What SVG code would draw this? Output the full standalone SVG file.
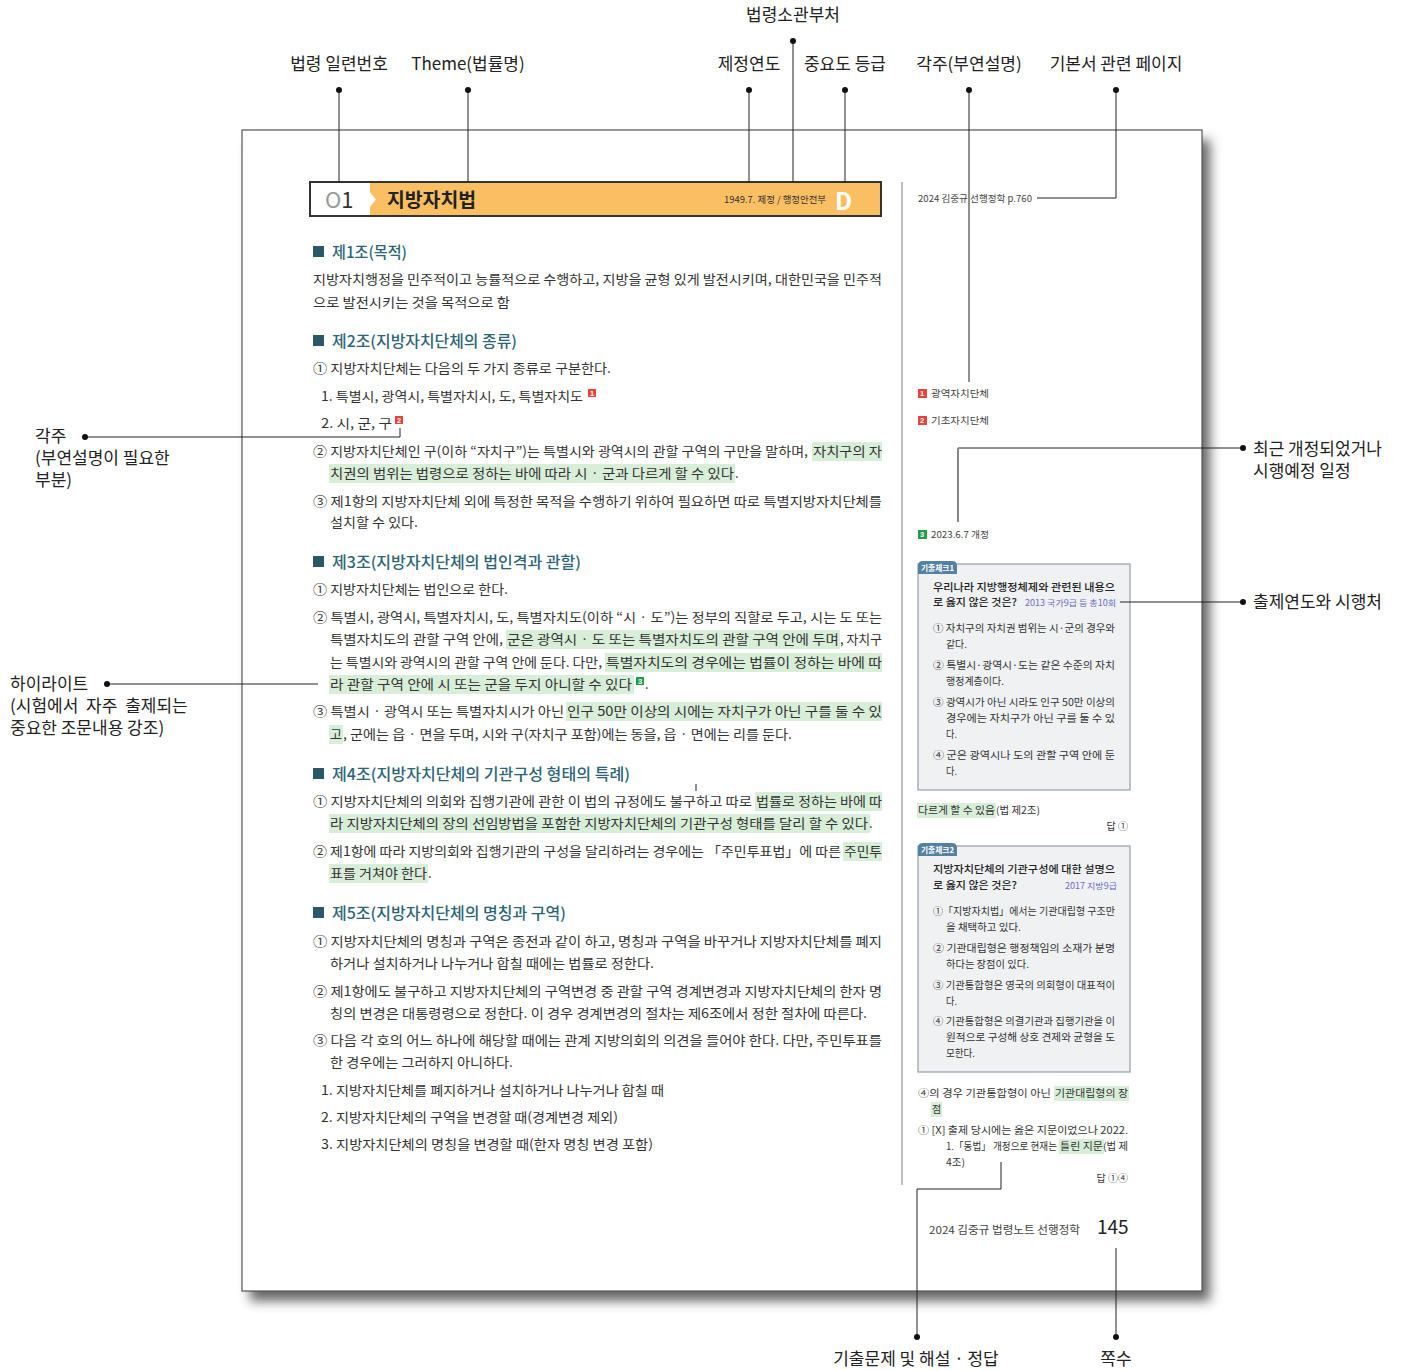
<svg xmlns="http://www.w3.org/2000/svg" width="1410" height="1370" viewBox="0 0 1410 1370">
<defs>
<filter id="sh" x="-5%" y="-5%" width="110%" height="110%"><feGaussianBlur stdDeviation="6"/></filter>
</defs>
<style>
text{font-family:"Noto Sans CJK KR","Noto Sans",sans-serif}
.lab{font-size:17px;fill:#222}
.b{font-size:13px;fill:#333}
.h{font-size:15.5px;fill:#2D6576;font-weight:500}
.sq{fill:#2B5866}
.s{font-size:9.5px;fill:#444}
.q{font-size:10.5px;fill:#222;font-weight:500}
.qs{font-size:10px;fill:#333}
.src{font-size:8.5px;fill:#6B6BC4}
.hl{fill:#D8EED9}
.ln{stroke:#222;stroke-width:1;fill:none}
.dot{fill:#111}
.mk{font-family:"Liberation Sans",sans-serif;font-size:7.5px;fill:#fff;font-weight:bold}
.red{fill:#E8433A}
.grn{fill:#1E9E4A}
.box{fill:#EFF1F3;stroke:#9AA5AE;stroke-width:1.3}
.tab{fill:#5580A0}
.tabt{font-size:7.5px;fill:#fff;font-weight:bold}
</style>
<rect width="1410" height="1370" fill="#fff"/>

<g id="page">
<rect x="250" y="140" width="960" height="1161" fill="#333" opacity="0.75" filter="url(#sh)"/>
<rect x="242" y="130" width="960" height="1161" fill="#fff" stroke="#555" stroke-width="1.2"/>
<line x1="902" y1="182" x2="902" y2="1185" stroke="#aaa" stroke-width="1.5"/>
</g>

<g id="header-bar">
<rect x="311" y="183" width="570" height="33" fill="#FBBF63"/>
<rect x="311" y="183" width="59" height="33" fill="#fff"/>
<polygon points="369,191 376,199.5 369,208" fill="#fff"/>
<rect x="310" y="182" width="571" height="34" fill="none" stroke="#333" stroke-width="2"/>
<text x="325" y="208" font-family="Liberation Sans,sans-serif" font-size="22"><tspan fill="#9a9a9a">O</tspan><tspan fill="#333">1</tspan></text>
<text x="387" y="207" font-size="19" font-weight="bold" fill="#222" textLength="89" lengthAdjust="spacingAndGlyphs">지방자치법</text>
<text x="724" y="203" font-size="9.5" fill="#333" textLength="102" lengthAdjust="spacingAndGlyphs">1949.7. 제정 / 행정안전부</text>
<text x="835" y="210" font-family="Liberation Sans,sans-serif" font-size="24" font-weight="bold" fill="#fff">D</text>
</g>

<g id="art1">
<rect class="sq" x="313" y="246" width="11" height="11"/>
<text class="h" x="332" y="258" textLength="75" lengthAdjust="spacingAndGlyphs">제1조(목적)</text>
<text class="b" x="313" y="284" textLength="569" lengthAdjust="spacingAndGlyphs">지방자치행정을 민주적이고 능률적으로 수행하고, 지방을 균형 있게 발전시키며, 대한민국을 민주적</text>
<text class="b" x="313" y="307" textLength="197" lengthAdjust="spacingAndGlyphs">으로 발전시키는 것을 목적으로 함</text>
</g>

<g id="art2">
<rect class="sq" x="313" y="335" width="11" height="11"/>
<text class="h" x="332" y="347" textLength="185" lengthAdjust="spacingAndGlyphs">제2조(지방자치단체의 종류)</text>
<text class="b" x="313" y="373" textLength="298" lengthAdjust="spacingAndGlyphs">① 지방자치단체는 다음의 두 가지 종류로 구분한다.</text>
<text class="b" x="321" y="401" textLength="262" lengthAdjust="spacingAndGlyphs">1. 특별시, 광역시, 특별자치시, 도, 특별자치도</text>
<rect class="red" x="588" y="389" width="8" height="8"/><text class="mk" x="590" y="396">1</text>
<text class="b" x="321" y="428" textLength="71" lengthAdjust="spacingAndGlyphs">2. 시, 군, 구</text>
<rect class="red" x="395" y="416" width="8" height="8"/><text class="mk" x="397" y="423">2</text>
<rect class="hl" x="812" y="442" width="70" height="19"/>
<text class="b" x="313" y="456" textLength="495" lengthAdjust="spacingAndGlyphs">② 지방자치단체인 구(이하 “자치구”)는 특별시와 광역시의 관할 구역의 구만을 말하며,</text>
<text class="b" x="813" y="456" textLength="69" lengthAdjust="spacingAndGlyphs">자치구의 자</text>
<rect class="hl" x="329" y="464" width="406" height="19"/>
<text class="b" x="330" y="478" textLength="404" lengthAdjust="spacingAndGlyphs">치권의 범위는 법령으로 정하는 바에 따라 시 · 군과 다르게 할 수 있다</text>
<text class="b" x="735" y="478">.</text>
<text class="b" x="313" y="506" textLength="569" lengthAdjust="spacingAndGlyphs">③ 제1항의 지방자치단체 외에 특정한 목적을 수행하기 위하여 필요하면 따로 특별지방자치단체를</text>
<text class="b" x="330" y="527" textLength="88" lengthAdjust="spacingAndGlyphs">설치할 수 있다.</text>
</g>

<g id="art3">
<rect class="sq" x="313" y="556" width="11" height="11"/>
<text class="h" x="332" y="568" textLength="249" lengthAdjust="spacingAndGlyphs">제3조(지방자치단체의 법인격과 관할)</text>
<text class="b" x="313" y="594" textLength="195" lengthAdjust="spacingAndGlyphs">① 지방자치단체는 법인으로 한다.</text>
<text class="b" x="313" y="622" textLength="569" lengthAdjust="spacingAndGlyphs">② 특별시, 광역시, 특별자치시, 도, 특별자치도(이하 “시 · 도”)는 정부의 직할로 두고, 시는 도 또는</text>
<rect class="hl" x="506" y="630" width="334" height="19"/>
<text class="b" x="330" y="644" textLength="173" lengthAdjust="spacingAndGlyphs">특별자치도의 관할 구역 안에,</text>
<text class="b" x="507" y="644" textLength="332" lengthAdjust="spacingAndGlyphs">군은 광역시 · 도 또는 특별자치도의 관할 구역 안에 두며</text>
<text class="b" x="840" y="644" textLength="42" lengthAdjust="spacingAndGlyphs">, 자치구</text>
<rect class="hl" x="605" y="653" width="277" height="19"/>
<text class="b" x="330" y="667" textLength="272" lengthAdjust="spacingAndGlyphs">는 특별시와 광역시의 관할 구역 안에 둔다. 다만,</text>
<text class="b" x="606" y="667" textLength="276" lengthAdjust="spacingAndGlyphs">특별자치도의 경우에는 법률이 정하는 바에 따</text>
<rect class="hl" x="329" y="675" width="305" height="19"/>
<text class="b" x="330" y="689" textLength="302" lengthAdjust="spacingAndGlyphs">라 관할 구역 안에 시 또는 군을 두지 아니할 수 있다</text>
<rect class="grn" x="636" y="677" width="8" height="8"/><text class="mk" x="638" y="684">3</text>
<text class="b" x="645" y="689">.</text>
<rect class="hl" x="566" y="702" width="316" height="19"/>
<text class="b" x="313" y="716" textLength="251" lengthAdjust="spacingAndGlyphs">③ 특별시 · 광역시 또는 특별자치시가 아닌</text>
<text class="b" x="567" y="716" textLength="315" lengthAdjust="spacingAndGlyphs">인구 50만 이상의 시에는 자치구가 아닌 구를 둘 수 있</text>
<rect class="hl" x="329" y="725" width="14" height="19"/>
<text class="b" x="330" y="739" textLength="12" lengthAdjust="spacingAndGlyphs">고</text>
<text class="b" x="343" y="739" textLength="449" lengthAdjust="spacingAndGlyphs">, 군에는 읍 · 면을 두며, 시와 구(자치구 포함)에는 동을, 읍 · 면에는 리를 둔다.</text>
</g>

<g id="art4">
<rect class="sq" x="313" y="768" width="11" height="11"/>
<text class="h" x="332" y="780" textLength="298" lengthAdjust="spacingAndGlyphs">제4조(지방자치단체의 기관구성 형태의 특례)</text>
<rect class="hl" x="755" y="792" width="127" height="19"/>
<text class="b" x="313" y="806" textLength="439" lengthAdjust="spacingAndGlyphs">① 지방자치단체의 의회와 집행기관에 관한 이 법의 규정에도 불구하고 따로</text>
<text class="b" x="756" y="806" textLength="126" lengthAdjust="spacingAndGlyphs">법률로 정하는 바에 따</text>
<rect class="hl" x="329" y="814" width="541" height="19"/>
<text class="b" x="330" y="828" textLength="538" lengthAdjust="spacingAndGlyphs">라 지방자치단체의 장의 선임방법을 포함한 지방자치단체의 기관구성 형태를 달리 할 수 있다</text>
<text class="b" x="869" y="828">.</text>
<rect class="hl" x="843" y="842" width="39" height="19"/>
<text class="b" x="313" y="856" textLength="528" lengthAdjust="spacingAndGlyphs">② 제1항에 따라 지방의회와 집행기관의 구성을 달리하려는 경우에는 「주민투표법」에 따른</text>
<text class="b" x="844" y="856" textLength="38" lengthAdjust="spacingAndGlyphs">주민투</text>
<rect class="hl" x="329" y="864" width="99" height="19"/>
<text class="b" x="330" y="878" textLength="97" lengthAdjust="spacingAndGlyphs">표를 거쳐야 한다</text>
<text class="b" x="428" y="878">.</text>
</g>

<g id="art5">
<rect class="sq" x="313" y="907" width="11" height="11"/>
<text class="h" x="332" y="919" textLength="234" lengthAdjust="spacingAndGlyphs">제5조(지방자치단체의 명칭과 구역)</text>
<text class="b" x="313" y="946" textLength="569" lengthAdjust="spacingAndGlyphs">① 지방자치단체의 명칭과 구역은 종전과 같이 하고, 명칭과 구역을 바꾸거나 지방자치단체를 폐지</text>
<text class="b" x="330" y="968" textLength="324" lengthAdjust="spacingAndGlyphs">하거나 설치하거나 나누거나 합칠 때에는 법률로 정한다.</text>
<text class="b" x="313" y="996" textLength="569" lengthAdjust="spacingAndGlyphs">② 제1항에도 불구하고 지방자치단체의 구역변경 중 관할 구역 경계변경과 지방자치단체의 한자 명</text>
<text class="b" x="330" y="1018" textLength="537" lengthAdjust="spacingAndGlyphs">칭의 변경은 대통령령으로 정한다. 이 경우 경계변경의 절차는 제6조에서 정한 절차에 따른다.</text>
<text class="b" x="313" y="1045" textLength="569" lengthAdjust="spacingAndGlyphs">③ 다음 각 호의 어느 하나에 해당할 때에는 관계 지방의회의 의견을 들어야 한다. 다만, 주민투표를</text>
<text class="b" x="330" y="1067" textLength="183" lengthAdjust="spacingAndGlyphs">한 경우에는 그러하지 아니하다.</text>
<text class="b" x="321" y="1095" textLength="343" lengthAdjust="spacingAndGlyphs">1. 지방자치단체를 폐지하거나 설치하거나 나누거나 합칠 때</text>
<text class="b" x="321" y="1122" textLength="297" lengthAdjust="spacingAndGlyphs">2. 지방자치단체의 구역을 변경할 때(경계변경 제외)</text>
<text class="b" x="321" y="1149" textLength="332" lengthAdjust="spacingAndGlyphs">3. 지방자치단체의 명칭을 변경할 때(한자 명칭 변경 포함)</text>
</g>

<g id="side-notes">
<text class="s" x="918" y="202" textLength="114" lengthAdjust="spacingAndGlyphs">2024 김중규 선행정학 p.760</text>
<rect class="red" x="918" y="389" width="9" height="9"/><text class="mk" x="920" y="396">1</text>
<text class="s" x="931" y="397" textLength="58" lengthAdjust="spacingAndGlyphs">광역자치단체</text>
<rect class="red" x="918" y="416" width="9" height="9"/><text class="mk" x="920" y="423">2</text>
<text class="s" x="931" y="424" textLength="58" lengthAdjust="spacingAndGlyphs">기초자치단체</text>
<rect class="grn" x="918" y="530" width="9" height="9"/><text class="mk" x="920" y="537">3</text>
<text class="s" x="931" y="538" textLength="58" lengthAdjust="spacingAndGlyphs">2023.6.7 개정</text>
</g>

<g id="quiz1">
<rect class="box" x="918" y="564" width="212" height="226"/>
<path class="tab" d="M918,574 V566 Q918,561 923,561 H952 Q957,561 957,566 V574 Z"/>
<text class="tabt" x="921" y="571" textLength="33" lengthAdjust="spacingAndGlyphs">기출체크1</text>
<text class="q" x="933" y="591" textLength="182" lengthAdjust="spacingAndGlyphs">우리나라 지방행정체제와 관련된 내용으</text>
<text class="q" x="933" y="606" textLength="84" lengthAdjust="spacingAndGlyphs">로 옳지 않은 것은?</text>
<text class="src" x="1025" y="606" textLength="91" lengthAdjust="spacingAndGlyphs">2013 국가9급 등 총10회</text>
<text class="qs" x="933" y="632" textLength="182" lengthAdjust="spacingAndGlyphs">① 자치구의 자치권 범위는 시·군의 경우와</text>
<text class="qs" x="946" y="648" textLength="21" lengthAdjust="spacingAndGlyphs">같다.</text>
<text class="qs" x="933" y="669" textLength="182" lengthAdjust="spacingAndGlyphs">② 특별시·광역시·도는 같은 수준의 자치</text>
<text class="qs" x="946" y="685" textLength="58" lengthAdjust="spacingAndGlyphs">행정계층이다.</text>
<text class="qs" x="933" y="706" textLength="182" lengthAdjust="spacingAndGlyphs">③ 광역시가 아닌 시라도 인구 50만 이상의</text>
<text class="qs" x="946" y="722" textLength="169" lengthAdjust="spacingAndGlyphs">경우에는 자치구가 아닌 구를 둘 수 있</text>
<text class="qs" x="946" y="738" textLength="11" lengthAdjust="spacingAndGlyphs">다.</text>
<text class="qs" x="933" y="759" textLength="182" lengthAdjust="spacingAndGlyphs">④ 군은 광역시나 도의 관할 구역 안에 둔</text>
<text class="qs" x="946" y="775" textLength="11" lengthAdjust="spacingAndGlyphs">다.</text>
</g>

<g id="answer1">
<rect class="hl" x="917" y="803" width="79" height="15"/>
<text class="qs" x="918" y="814" textLength="77" lengthAdjust="spacingAndGlyphs">다르게 할 수 있음</text>
<text class="qs" x="996" y="814" textLength="44" lengthAdjust="spacingAndGlyphs">(법 제2조)</text>
<text class="qs" x="1128" y="830" text-anchor="end">답 ①</text>
</g>

<g id="quiz2">
<rect class="box" x="918" y="846" width="212" height="226"/>
<path class="tab" d="M918,856 V848 Q918,843 923,843 H952 Q957,843 957,848 V856 Z"/>
<text class="tabt" x="921" y="853" textLength="33" lengthAdjust="spacingAndGlyphs">기출체크2</text>
<text class="q" x="933" y="873" textLength="182" lengthAdjust="spacingAndGlyphs">지방자치단체의 기관구성에 대한 설명으</text>
<text class="q" x="933" y="889" textLength="84" lengthAdjust="spacingAndGlyphs">로 옳지 않은 것은?</text>
<text class="src" x="1065" y="889" textLength="52" lengthAdjust="spacingAndGlyphs">2017 지방9급</text>
<text class="qs" x="933" y="915" textLength="182" lengthAdjust="spacingAndGlyphs">①「지방자치법」에서는 기관대립형 구조만</text>
<text class="qs" x="946" y="931" textLength="75" lengthAdjust="spacingAndGlyphs">을 채택하고 있다.</text>
<text class="qs" x="933" y="952" textLength="182" lengthAdjust="spacingAndGlyphs">② 기관대립형은 행정책임의 소재가 분명</text>
<text class="qs" x="946" y="968" textLength="83" lengthAdjust="spacingAndGlyphs">하다는 장점이 있다.</text>
<text class="qs" x="933" y="989" textLength="182" lengthAdjust="spacingAndGlyphs">③ 기관통합형은 영국의 의회형이 대표적이</text>
<text class="qs" x="946" y="1005" textLength="11" lengthAdjust="spacingAndGlyphs">다.</text>
<text class="qs" x="933" y="1025" textLength="182" lengthAdjust="spacingAndGlyphs">④ 기관통합형은 의결기관과 집행기관을 이</text>
<text class="qs" x="946" y="1041" textLength="169" lengthAdjust="spacingAndGlyphs">원적으로 구성해 상호 견제와 균형을 도</text>
<text class="qs" x="946" y="1057" textLength="29" lengthAdjust="spacingAndGlyphs">모한다.</text>
</g>

<g id="answer2">
<rect class="hl" x="1054" y="1086" width="75" height="15"/>
<text class="qs" x="918" y="1097" textLength="133" lengthAdjust="spacingAndGlyphs">④의 경우 기관통합형이 아닌</text>
<text class="qs" x="1055" y="1097" textLength="73" lengthAdjust="spacingAndGlyphs">기관대립형의 장</text>
<rect class="hl" x="931" y="1102" width="11" height="15"/>
<text class="qs" x="932" y="1113">점</text>
<text class="qs" x="918" y="1134" textLength="210" lengthAdjust="spacingAndGlyphs">① [X] 출제 당시에는 옳은 지문이었으나 2022.</text>
<rect class="hl" x="1059" y="1139" width="45" height="15"/>
<text class="qs" x="946" y="1150" textLength="111" lengthAdjust="spacingAndGlyphs">1.「동법」 개정으로 현재는</text>
<text class="qs" x="1060" y="1150" textLength="43" lengthAdjust="spacingAndGlyphs">틀린 지문</text>
<text class="qs" x="1103" y="1150" textLength="25" lengthAdjust="spacingAndGlyphs">(법 제</text>
<text class="qs" x="946" y="1166" textLength="19" lengthAdjust="spacingAndGlyphs">4조)</text>
<text class="qs" x="1128" y="1182" text-anchor="end">답 ①④</text>
</g>

<g id="footer">
<text x="929" y="1234" font-size="11" fill="#444" textLength="151" lengthAdjust="spacingAndGlyphs">2024 김중규 법령노트 선행정학</text>
<text x="1097" y="1234" font-family="Liberation Sans,sans-serif" font-size="19" fill="#222">145</text>
</g>

<g id="connectors">
<line class="ln" x1="339" y1="90" x2="339" y2="182"/>
<line class="ln" x1="468" y1="90" x2="468" y2="182"/>
<line class="ln" x1="793" y1="41" x2="793" y2="182"/>
<line class="ln" x1="749" y1="90" x2="749" y2="182"/>
<line class="ln" x1="845" y1="90" x2="845" y2="182"/>
<line class="ln" x1="969" y1="90" x2="969" y2="382"/>
<polyline class="ln" points="1116,90 1116,198 1037,198"/>
<polyline class="ln" points="85,437 400,437 400,428"/>
<line class="ln" x1="107" y1="684" x2="318" y2="684"/>
<line class="ln" x1="958" y1="448" x2="1243" y2="448"/>
<line x1="958" y1="448" x2="958" y2="522" stroke="#888" stroke-width="2"/>
<line class="ln" x1="1120" y1="602" x2="1243" y2="602"/>
<polyline class="ln" points="917,1337 917,1189 1001,1189 1001,1162"/>
<line class="ln" x1="1116" y1="1337" x2="1116" y2="1248"/>
<line class="ln" x1="696" y1="784" x2="696" y2="791"/>
<circle class="dot" cx="339" cy="90" r="3"/>
<circle class="dot" cx="468" cy="90" r="3"/>
<circle class="dot" cx="793" cy="41" r="3"/>
<circle class="dot" cx="749" cy="90" r="3"/>
<circle class="dot" cx="845" cy="90" r="3"/>
<circle class="dot" cx="969" cy="90" r="3"/>
<circle class="dot" cx="1116" cy="90" r="3"/>
<circle class="dot" cx="85" cy="437" r="3"/>
<circle class="dot" cx="107" cy="684" r="3"/>
<circle class="dot" cx="1243" cy="448" r="3"/>
<circle class="dot" cx="1243" cy="602" r="3"/>
<circle class="dot" cx="917" cy="1337" r="3"/>
<circle class="dot" cx="1116" cy="1337" r="3"/>
</g>

<g id="callout-labels">
<text class="lab" x="793" y="21" text-anchor="middle">법령소관부처</text>
<text class="lab" x="339" y="70" text-anchor="middle">법령 일련번호</text>
<text class="lab" x="468" y="70" text-anchor="middle">Theme(법률명)</text>
<text class="lab" x="749" y="70" text-anchor="middle">제정연도</text>
<text class="lab" x="845" y="70" text-anchor="middle">중요도 등급</text>
<text class="lab" x="969" y="70" text-anchor="middle">각주(부연설명)</text>
<text class="lab" x="1116" y="70" text-anchor="middle">기본서 관련 페이지</text>
<text class="lab"><tspan x="35" y="442">각주</tspan><tspan x="35" y="464">(부연설명이 필요한</tspan><tspan x="35" y="486">부분)</tspan></text>
<text class="lab"><tspan x="10" y="690">하이라이트</tspan><tspan x="10" y="712" word-spacing="4">(시험에서 자주 출제되는</tspan><tspan x="10" y="734">중요한 조문내용 강조)</tspan></text>
<text class="lab"><tspan x="1253" y="455">최근 개정되었거나</tspan><tspan x="1253" y="477">시행예정 일정</tspan></text>
<text class="lab" x="1253" y="608">출제연도와 시행처</text>
<text class="lab" x="916" y="1365" text-anchor="middle">기출문제 및 해설 · 정답</text>
<text class="lab" x="1116" y="1365" text-anchor="middle">쪽수</text>
</g>
</svg>
